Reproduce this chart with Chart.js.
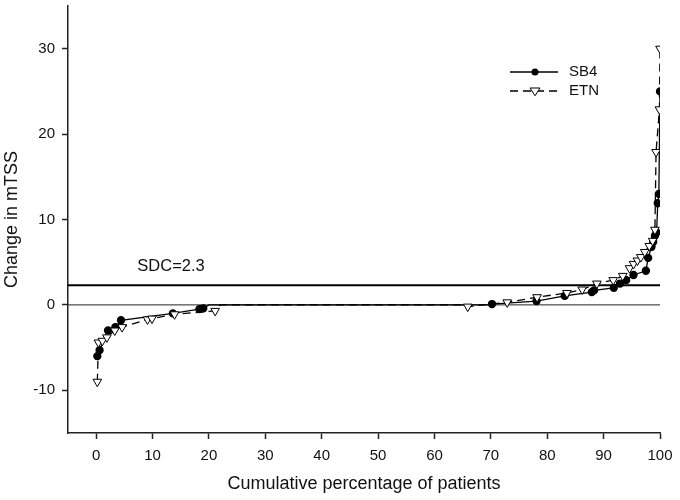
<!DOCTYPE html>
<html>
<head>
<meta charset="utf-8">
<script src="https://cdn.jsdelivr.net/npm/chart.js@4.4.1/dist/chart.umd.min.js"></script>
<style>
  body { margin: 0; background: #fff; }
</style>
</head>
<body>
<canvas id="canvas" width="680" height="500"></canvas>
<script>
// cumulative percentage of patients vs change in mTSS
var sb4X = [0.2, 0.6, 2.1, 3.4, 4.4, 13.6, 18.3, 19.0, 20, 69.5, 70.2, 78.1, 83.1, 87.9, 88.3, 91.8, 92.9, 94.0, 95.3, 97.5, 97.9, 98.5, 98.8, 99.1, 99.4, 99.6, 99.8, 100];
var sb4Y = [-6.0, -5.3, -3.0, -2.6, -1.8, -1.0, -0.5, -0.4, 0, 0, 0.1, 0.45, 1.05, 1.5, 1.7, 2.0, 2.5, 2.9, 3.5, 4.0, 5.5, 6.8, 7.4, 8.1, 8.5, 11.9, 13.0, 25.0];

var etnX = [0.2, 0.4, 1.1, 1.9, 3.3, 4.6, 9.1, 9.9, 13.9, 21.1, 22, 65, 65.9, 72.9, 78.2, 83.5, 86.2, 88.8, 91.7, 93.4, 94.6, 95.3, 96.0, 96.6, 97.3, 98.1, 98.7, 99.1, 99.3, 99.9, 100];
var etnY = [-9.0, -4.4, -4.2, -3.8, -3.0, -2.6, -1.7, -1.6, -1.1, -0.7, 0, 0, -0.2, 0.3, 0.9, 1.4, 1.8, 2.5, 2.9, 3.4, 4.3, 4.8, 5.2, 5.6, 6.2, 6.9, 7.5, 8.8, 17.9, 22.9, 30.0];

var xTicks = [0, 10, 20, 30, 40, 50, 60, 70, 80, 90, 100];
var yTicks = [-10, 0, 10, 20, 30];
var xRange = [-5, 100];
var yRange = [-15, 35];
var sdc = 2.3;
var sdcLabel = 'SDC=2.3';
var seriesNames = ['SB4', 'ETN'];

var FONT = "'Liberation Sans', Arial, sans-serif";

function toPoints(xs, ys) {
  return xs.map(function(x, i) { return {x: x, y: ys[i]}; });
}

// patients with no change form the flat part, no marker there
function markerSize(r) {
  return function(ctx) {
    return ctx.raw && ctx.raw.y === 0 ? 0 : r;
  };
}

function drawTriangle(ctx, x, y, r) {
  ctx.beginPath();
  ctx.moveTo(x - r, y - r * 0.6);
  ctx.lineTo(x + r, y - r * 0.6);
  ctx.lineTo(x, y + r * 0.95);
  ctx.closePath();
  ctx.fillStyle = '#fff';
  ctx.fill();
  ctx.lineWidth = 1;
  ctx.strokeStyle = '#000';
  ctx.stroke();
}

var extras = {
  id: 'extras',
  afterDatasetsDraw: function(chart) {
    var ctx = chart.ctx;
    var xs = chart.scales.x, ys = chart.scales.y;
    ctx.save();
    ctx.fillStyle = '#111';
    ctx.font = '16.5px ' + FONT;
    ctx.textBaseline = 'middle';
    ctx.textAlign = 'left';
    ctx.fillText(sdcLabel, xs.getPixelForValue(7.3), ys.getPixelForValue(4.45));

    // legend
    var lx = 510, lw = 48, ly = 72, gap = 19;
    ctx.strokeStyle = '#000';
    ctx.lineWidth = 1.3;
    ctx.beginPath();
    ctx.moveTo(lx, ly); ctx.lineTo(lx + lw, ly);
    ctx.stroke();
    ctx.beginPath();
    ctx.arc(lx + 25, ly, 3.5, 0, Math.PI * 2);
    ctx.fillStyle = '#000';
    ctx.fill();

    ctx.setLineDash([8, 5]);
    ctx.beginPath();
    ctx.moveTo(lx, ly + gap); ctx.lineTo(lx + lw, ly + gap);
    ctx.stroke();
    ctx.setLineDash([]);
    drawTriangle(ctx, lx + 25, ly + gap, 5);

    ctx.fillStyle = '#111';
    ctx.font = '15px ' + FONT;
    ctx.fillText(seriesNames[0], 569, ly);
    ctx.fillText(seriesNames[1], 569, ly + gap);
    ctx.restore();
  }
};

var config = {
  type: 'scatter',
  data: {
    datasets: [{
      label: 'zero',
      data: toPoints(xRange, [0, 0]),
      showLine: true,
      borderColor: '#222',
      borderWidth: 1,
      pointRadius: 0,
      order: 5
    }, {
      label: 'SDC',
      data: toPoints(xRange, [sdc, sdc]),
      showLine: true,
      borderColor: '#000',
      borderWidth: 2,
      pointRadius: 0,
      order: 4
    }, {
      label: seriesNames[1],
      data: toPoints(etnX, etnY),
      showLine: true,
      borderColor: '#000',
      borderWidth: 1.3,
      borderDash: [8, 5],
      pointStyle: 'triangle',
      rotation: 180,
      pointRadius: markerSize(5),
      pointBackgroundColor: '#fff',
      pointBorderColor: '#000',
      pointBorderWidth: 1,
      order: 1
    }, {
      label: seriesNames[0],
      data: toPoints(sb4X, sb4Y),
      showLine: true,
      borderColor: '#000',
      borderWidth: 1.3,
      pointStyle: 'circle',
      pointRadius: markerSize(3.5),
      pointBackgroundColor: '#000',
      pointBorderColor: '#000',
      order: 2
    }]
  },
  options: {
    responsive: false,
    animation: false,
    layout: { padding: { top: 5, right: 20, left: 0, bottom: 0 } },
    plugins: {
      legend: { display: false },
      tooltip: { enabled: false }
    },
    scales: {
      x: {
        type: 'linear',
        min: xRange[0],
        max: xRange[1],
        afterBuildTicks: function(scale) {
          scale.ticks = xTicks.map(function(v) { return {value: v}; });
        },
        afterFit: function(scale) { scale.height = 67; scale.paddingLeft = 0; scale.paddingRight = 0; },
        grid: { drawOnChartArea: false, drawTicks: true, tickLength: 6, tickColor: '#222', tickWidth: 1.5 },
        border: { display: true, color: '#222', width: 1.5 },
        ticks: { color: '#111', font: { family: FONT, size: 15 }, padding: 8, maxRotation: 0 },
        title: {
          display: true,
          text: 'Cumulative percentage of patients',
          color: '#111',
          font: { family: FONT, size: 18 },
          padding: { top: 4, bottom: 5 }
        }
      },
      y: {
        type: 'linear',
        min: yRange[0],
        max: yRange[1],
        afterBuildTicks: function(scale) {
          scale.ticks = yTicks.map(function(v) { return {value: v}; });
        },
        afterFit: function(scale) { scale.width = 68; scale.paddingTop = 0; scale.paddingBottom = 0; },
        grid: { drawOnChartArea: false, drawTicks: true, tickLength: 6, tickColor: '#222', tickWidth: 1.5 },
        border: { display: true, color: '#222', width: 1.5 },
        ticks: { color: '#111', font: { family: FONT, size: 15 }, padding: 7 },
        title: {
          display: true,
          text: 'Change in mTSS',
          color: '#111',
          font: { family: FONT, size: 18 },
          padding: 1
        }
      }
    }
  },
  plugins: [extras]
};

new Chart(document.getElementById('canvas'), config);
</script>
</body>
</html>
